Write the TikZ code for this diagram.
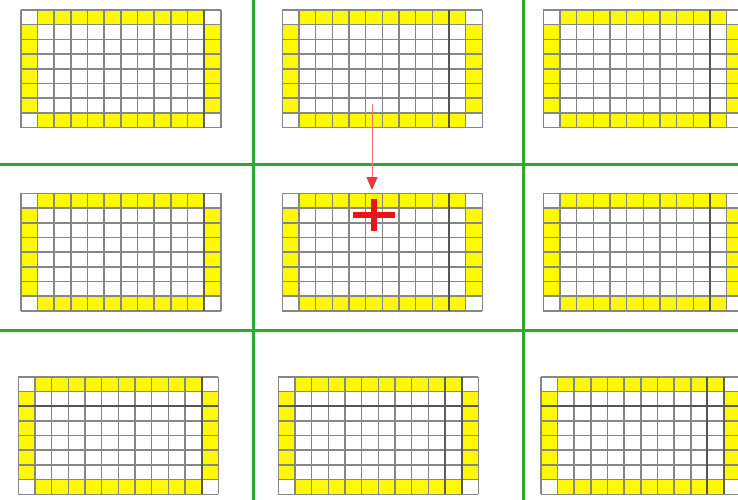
\documentclass[tikz,border=0pt]{standalone}
\usetikzlibrary{arrows.meta}
\definecolor{padyellow}{RGB}{255,250,0}
\definecolor{gridgray}{RGB}{135,135,135}
\definecolor{darkgray2}{RGB}{85,85,85}
\definecolor{sepgreen}{RGB}{45,170,45}
\definecolor{markred}{RGB}{235,20,20}
\tikzset{
  gridline/.style={draw=gridgray,line width=1.6pt},
  darkline/.style={draw=darkgray2,line width=2pt},
  medline/.style={draw=gridgray!70!black,line width=1.8pt},
  padcell/.style={fill=padyellow},
  sepline/.style={draw=sepgreen,line width=3pt},
  pointer/.style={draw=markred!60,line width=1pt,-{Triangle[length=13pt,width=11pt,fill=markred!85,color=markred!85]}},
  crossbar/.style={fill=markred}
}
\newcommand\padpanel[3]{%
  \begin{scope}[shift={(#1,#2)},x=16.667pt,y=-14.7pt]
    \foreach \i in {1,...,10}{
      \fill[padcell] (\i,0) rectangle ++(1,1);
      \fill[padcell] (\i,7) rectangle ++(1,1);
    }
    \foreach \j in {1,...,6}{
      \fill[padcell] (0,\j) rectangle ++(1,1);
      \fill[padcell] (11,\j) rectangle ++(1,1);
    }
    \foreach \i in {0,...,12}{\draw[gridline] (\i,0) -- (\i,8);}
    \foreach \j in {0,...,8}{\draw[gridline] (0,\j) -- (12,\j);}
    #3
  \end{scope}}
\begin{document}
\begin{tikzpicture}[x=1pt,y=-1pt]
  \useasboundingbox (0,0) rectangle (738,500);
  \fill[white] (0,0) rectangle (738,500);
  \begin{scope}
    \clip (0,0) rectangle (738,500);
    % separators
    \draw[sepline] (253.5,0) -- (253.5,500);
    \draw[sepline] (523,0) -- (523,500);
    \draw[sepline] (0,164) -- (738,164);
    \draw[sepline] (0,330) -- (738,330);
    % panels
    \padpanel{20.7}{10}{\draw[medline] (11,0) -- (11,8);}
    \padpanel{282.3}{10}{\draw[darkline] (10,0) -- (10,8);}
    \padpanel{543.3}{10}{\draw[darkline] (10,0) -- (10,8);}
    \padpanel{20.7}{193.3}{\draw[medline] (11,0) -- (11,8);}
    \padpanel{282.3}{193.3}{\draw[darkline] (10,0) -- (10,8);}
    \padpanel{543.3}{193.3}{\draw[darkline] (10,0) -- (10,8);}
    \padpanel{18.3}{376.7}{\draw[darkline] (0,2) -- (12,2); \draw[darkline] (11,0) -- (11,8);}
    \padpanel{278.3}{376.7}{\draw[darkline] (0,2) -- (12,2); \draw[medline] (10,0) -- (10,8); \draw[darkline] (11,0) -- (11,8);}
    \padpanel{540.7}{376.7}{\draw[darkline] (0,2) -- (12,2); \draw[darkline] (10,0) -- (10,8); \draw[medline] (11,0) -- (11,8);}
  \end{scope}
  % marker
  \coordinate (plus) at (373.5,215);
  \fill[crossbar] ([xshift=-21pt,yshift=-3pt]plus) rectangle ([xshift=21pt,yshift=3pt]plus);
  \fill[crossbar] ([xshift=-3pt,yshift=-16pt]plus) rectangle ([xshift=3pt,yshift=16pt]plus);
  \coordinate (start) at (372,104);
  \coordinate (tip) at (372,190);
  \draw[pointer] (start) -- (tip);
\end{tikzpicture}
\end{document}
